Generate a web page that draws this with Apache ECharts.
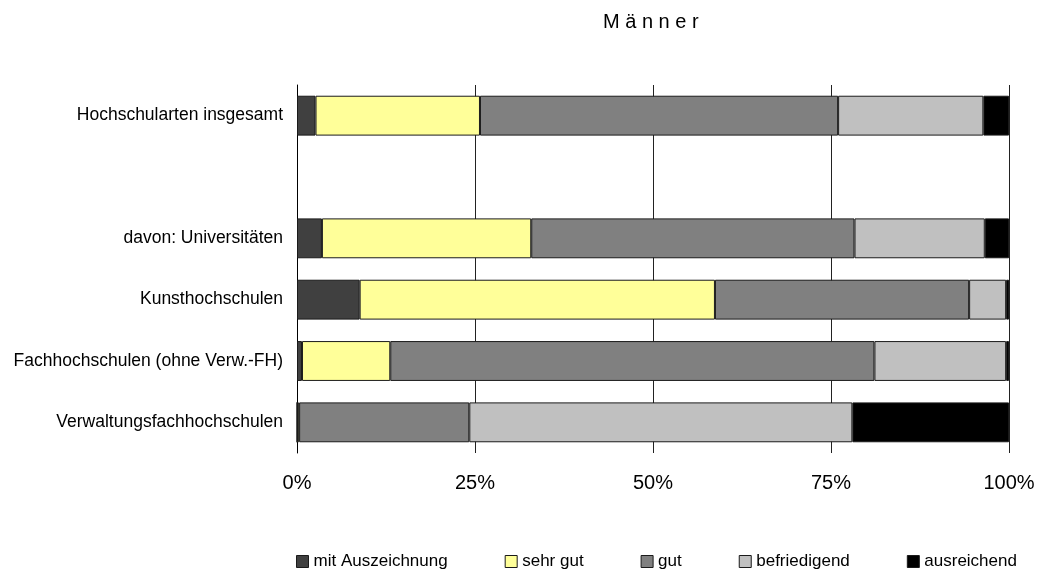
<!DOCTYPE html>
<html>
<head>
<meta charset="utf-8">
<script src="https://cdn.jsdelivr.net/npm/echarts@6/dist/echarts.min.js"></script>
<style>
  html, body { margin: 0; padding: 0; background: #fff; }
  #chart { width: 1042px; height: 577px; }
</style>
</head>
<body>
<div id="chart"></div>
<script>
// Kategorien von oben nach unten (leere Zeile als Abstand)
var categories = [
  "Hochschularten insgesamt",
  "",
  "davon: Universitäten",
  "Kunsthochschulen",
  "Fachhochschulen (ohne Verw.-FH)",
  "Verwaltungsfachhochschulen"
];

// Anteile in %
var mitAuszeichnung = [2.6, "-", 3.5, 8.8, 0.7, 0];
var sehrGut = [23.1, "-", 29.4, 49.9, 12.4, 0.3];
var gut = [50.3, "-", 45.4, 35.7, 68.0, 23.9];
var befriedigend = [20.4, "-", 18.3, 5.2, 18.5, 53.8];
var ausreichend = [3.6, "-", 3.4, 0.4, 0.4, 22.0];

var xTicks = [0, 25, 50, 75, 100];

var font = "'Liberation Sans', Arial, sans-serif";

var myChart = echarts.init(document.getElementById("chart"));

function bar(name, data, color) {
  return {
    name: name,
    type: "bar",
    stack: "total",
    data: data,
    barCategoryGap: "35%",
    itemStyle: { color: color, borderColor: "#1a1a1a", borderWidth: 1 }
  };
}

myChart.setOption({
  animation: false,
  title: {
    text: "M ä n n e r",
    left: 603,
    top: 12,
    padding: 0,
    textStyle: { fontFamily: font, fontSize: 20, fontWeight: "normal", color: "#000" }
  },
  legend: {
    left: 296,
    top: 553,
    padding: 0,
    itemGap: 57,
    itemWidth: 12,
    itemHeight: 12,
    icon: "rect",
    textStyle: { fontFamily: font, fontSize: 17, color: "#000" },
    itemStyle: { borderColor: "#1a1a1a", borderWidth: 1 }
  },
  grid: { left: 297, right: 33, top: 85, bottom: 124 },
  xAxis: {
    type: "value",
    min: xTicks[0],
    max: xTicks[xTicks.length - 1],
    interval: 25,
    axisLine: { show: false },
    axisTick: { show: false },
    axisLabel: {
      formatter: "{value}%",
      margin: 20,
      fontFamily: font,
      fontSize: 20,
      color: "#000"
    },
    splitLine: { show: true, lineStyle: { color: "#222", width: 1 } }
  },
  yAxis: {
    type: "category",
    data: categories,
    inverse: true,
    axisLine: { show: true, lineStyle: { color: "#000", width: 1 } },
    axisTick: { show: false },
    axisLabel: { margin: 14, fontFamily: font, fontSize: 17.5, color: "#000" }
  },
  series: [
    bar("mit Auszeichnung", mitAuszeichnung, "#404040"),
    bar("sehr gut", sehrGut, "#FFFF99"),
    bar("gut", gut, "#808080"),
    bar("befriedigend", befriedigend, "#C0C0C0"),
    bar("ausreichend", ausreichend, "#000000")
  ]
});
</script>
</body>
</html>
